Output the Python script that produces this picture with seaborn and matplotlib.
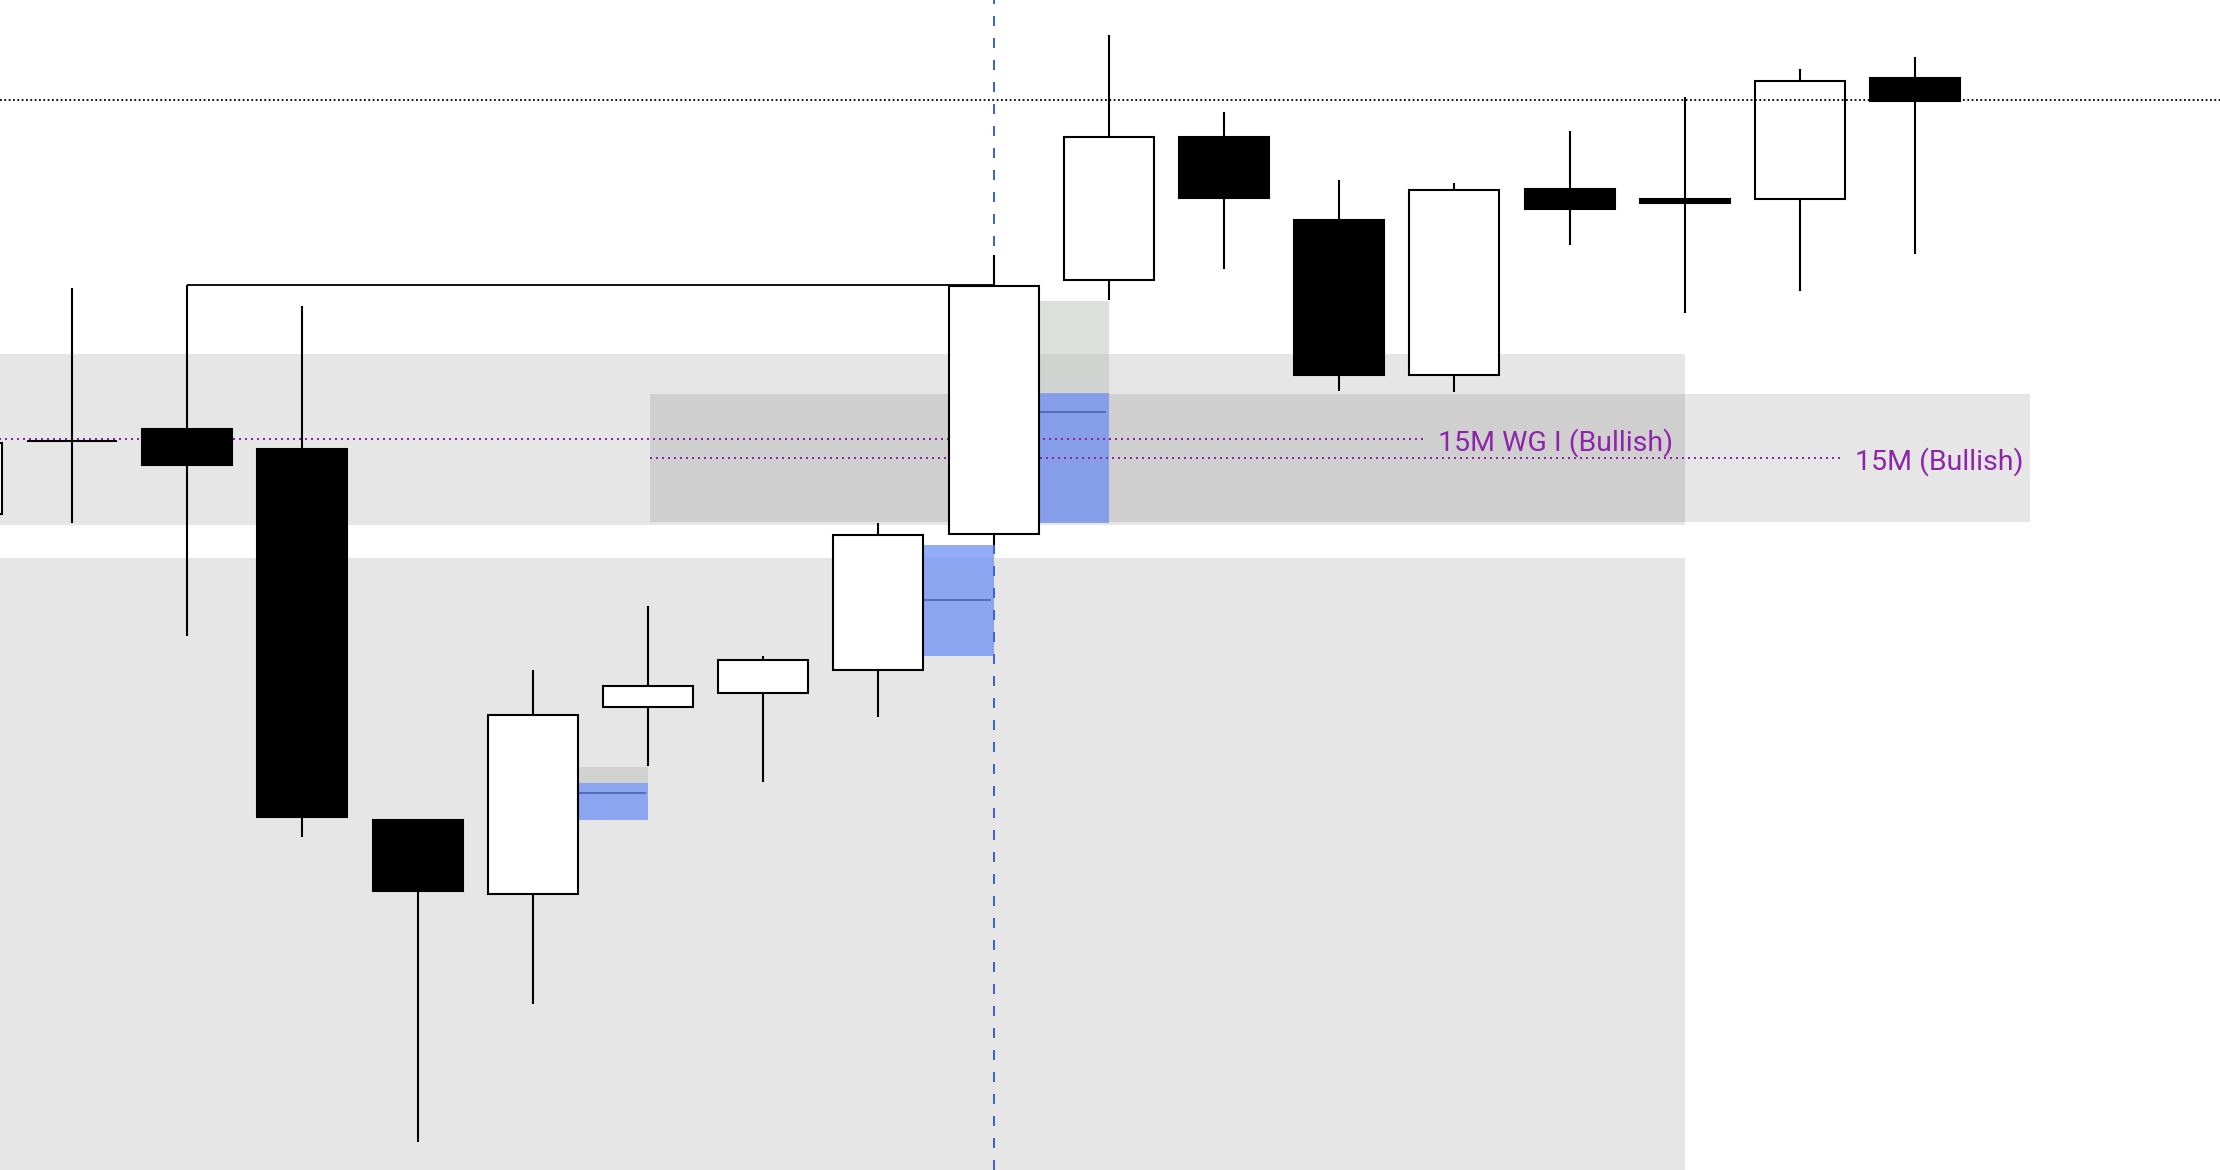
"""Candlestick chart with liquidity zones, FVG boxes and level lines."""

import matplotlib
matplotlib.use("Agg")

import matplotlib.pyplot as plt
import numpy as np
import seaborn as sns

# candle data (index -1 is the partly hidden candle at the left edge)
candle_idx = np.arange(-1, 17)
opens = [463, 515, 523, 509, 247, 195, 327, 337, 353, 449, 628, 729, 671, 561, 692.5, 685.4, 685.4, 770.9]
highs = [520, 623, 625, 610, 247, 353, 398, 363, 457, 646, 801, 747, 699, 697, 733.5, 757.5, 777.3, 785.7]
lows = [455, 457, 377, 235, 20, 117, 285, 274, 320, 441, 614, 636, 550, 549, 653.2, 605.2, 620.7, 646.8]
closes = [513, 515, 498, 249, 197, 321, 342, 360, 448, 624, 729, 686, 561, 692, 678.4, 682.8, 768.6, 755]

# shaded zones: (x start, x end, low, high)
zone_x0 = [-2.0, -2.0, 5.02]
zone_x1 = [14.0, 14.0, 17.0]
zone_lo = [455.2, -10.0, 457.5]
zone_hi = [576.0, 432.0, 547.7]

# fair value gap boxes, drawn from the right edge of a candle body to the next candle
gap_candle = [8, 7, 4]
gap_blue_top = [548.4, 441.0, 273.0]
gap_blue_bottom = [457.0, 363.0, 246.8]
gap_mid = [535.0, 402.2, 266.1]
gap_gray_top = [613.4, 441.0, 284.3]

# labelled levels
level_names = ["15M WG I (Bullish)", "15M (Bullish)"]
level_values = [516.0, 502.5]
level_start = [-2.0, 5.02]
level_label_x = [11.86, 15.48]

close_level = 755.6
sweep_from, sweep_to = 1, 8
signal_candle = 8

BODY_W = 0.78
PURPLE = "#8e24aa"

sns.set_theme(style="white")
plt.rcParams["font.family"] = ["Roboto", "DejaVu Sans"]

fig = plt.figure(figsize=(22.2, 11.7), dpi=100)
ax = fig.add_axes([0, 0, 1, 1])
ax.set_xlim(-0.625, 18.646)
ax.set_ylim(0, 826)
ax.axis("off")

# zones
for x0, x1, lo, hi in zip(zone_x0, zone_x1, zone_lo, zone_hi):
    ax.fill_between([x0, x1], lo, hi, color="black", alpha=0.098, lw=0, zorder=0)

# FVG boxes
for c, bt, bb, mid, gt in zip(gap_candle, gap_blue_top, gap_blue_bottom, gap_mid, gap_gray_top):
    x0, x1 = c + BODY_W / 2, c + 1
    if gt > bt:
        ax.fill_between([x0, x1], bt, gt, color="#bcc3bc", alpha=0.52, lw=0, zorder=1)
    ax.fill_between([x0, x1], bb, bt, color="#6a8cf5", alpha=0.72, lw=0, zorder=1)
    ax.hlines(mid, x0, x1 - 0.02, color="#4a62b0", lw=1.2, zorder=1.5)

# purple levels + labels
for name, val, x0, lx in zip(level_names, level_values, level_start, level_label_x):
    ax.hlines(val, x0, lx - 0.13, color=PURPLE, lw=1.44, ls=(0, (1, 2)), zorder=2)
    ax.text(lx, val - 2.5, name, color=PURPLE, fontsize=20.5, va="center", ha="left", zorder=2)

# signal line
ax.axvline(signal_candle, color="#3b62e3", lw=1.44, ls=(0, (5, 6)), zorder=2)

# sweep bracket
ax.hlines(highs[sweep_from + 1], sweep_from, sweep_to, color="black", lw=1.3, zorder=3)

# candles
for i, o, h, l, c in zip(candle_idx, opens, highs, lows, closes):
    ax.vlines(i, l, h, color="black", lw=1.5, zorder=3)
    if abs(c - o) < 0.5:
        ax.hlines(o, i - BODY_W / 2, i + BODY_W / 2, color="black", lw=1.5, zorder=4)
        continue
    fc = "black" if c < o else "white"
    ax.bar(i, abs(c - o), bottom=min(o, c), width=BODY_W,
           facecolor=fc, edgecolor="black", linewidth=1.5, zorder=4)

# last close level
ax.axhline(close_level, color="black", lw=1.3, ls=(0, (1, 1.4)), zorder=5)

fig.savefig("out.png", dpi=100)
plt.close(fig)
